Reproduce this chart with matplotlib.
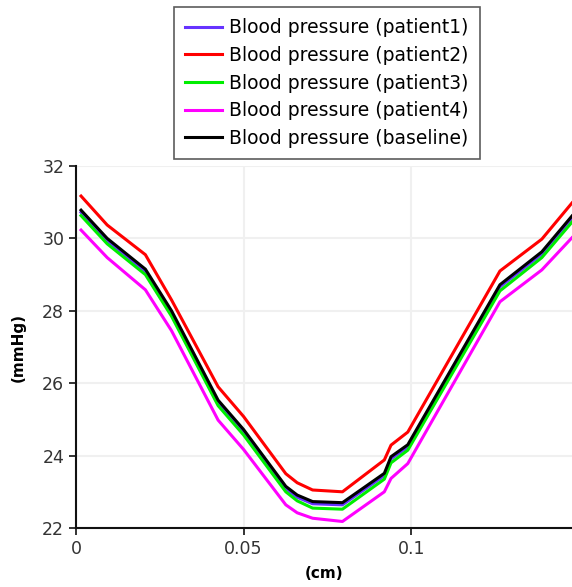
import matplotlib
matplotlib.use('Agg')
import matplotlib.pyplot as plt

# positions along the vessel (cm)
x_cm = [0.0015, 0.0093, 0.0207, 0.0285, 0.0424, 0.050, 0.0626, 0.066,
        0.0706, 0.0795, 0.092, 0.094, 0.099, 0.1265, 0.139, 0.148]

# blood pressure (mmHg)
patient1 = [30.72, 29.94, 29.09, 27.94, 25.47, 24.66, 23.09, 22.85,
            22.67, 22.64, 23.45, 23.91, 24.24, 28.66, 29.57, 30.56]
patient2 = [31.17, 30.37, 29.55, 28.30, 25.90, 25.08, 23.50, 23.25,
            23.05, 23.00, 23.88, 24.29, 24.65, 29.10, 29.98, 30.98]
patient3 = [30.63, 29.85, 29.00, 27.85, 25.38, 24.57, 23.00, 22.75,
            22.55, 22.52, 23.35, 23.80, 24.15, 28.55, 29.47, 30.45]
patient4 = [30.23, 29.47, 28.58, 27.45, 24.98, 24.17, 22.64, 22.42,
            22.27, 22.18, 23.00, 23.37, 23.78, 28.25, 29.13, 30.02]
baseline = [30.78, 30.00, 29.15, 28.00, 25.53, 24.72, 23.15, 22.91,
            22.73, 22.70, 23.51, 23.97, 24.30, 28.72, 29.63, 30.62]

series = [
    ('Blood pressure (patient1)', patient1, '#6633ff'),
    ('Blood pressure (patient2)', patient2, '#ff0000'),
    ('Blood pressure (patient3)', patient3, '#00ee00'),
    ('Blood pressure (patient4)', patient4, '#ff00ff'),
    ('Blood pressure (baseline)', baseline, '#000000'),
]

xticks = [0, 0.05, 0.1]
xtick_labels = ['0', '0.05', '0.1']
yticks = [22, 24, 26, 28, 30, 32]

plt.rcParams['font.family'] = ['DejaVu Sans']

fig = plt.figure(figsize=(5.72, 5.87), dpi=100)
ax = fig.add_axes([0.1329, 0.1005, 0.8671, 0.6167])

for label, vals, color in series:
    ax.plot(x_cm, vals, color=color, linewidth=2.2, label=label,
            solid_joinstyle='round')

ax.set_xlim(0, 0.148)
ax.set_ylim(22, 32)
ax.set_xticks(xticks)
ax.set_xticklabels(xtick_labels)
ax.set_yticks(yticks)
ax.grid(True, color='#f0f0f0', linewidth=1.5)
ax.set_axisbelow(True)

for side in ['top', 'right']:
    ax.spines[side].set_visible(False)
for side in ['left', 'bottom']:
    ax.spines[side].set_linewidth(1.5)
    ax.spines[side].set_color('#111111')

ax.tick_params(axis='both', labelsize=12.5, length=5, width=1.2,
               colors='#111111', labelcolor='#333333')
ax.set_xlabel('(cm)', fontsize=11, fontweight='bold', labelpad=6)
ax.set_ylabel('(mmHg)', fontsize=11, fontweight='bold', labelpad=12)

leg = fig.legend(loc='upper center', bbox_to_anchor=(0.571, 0.988),
                 fontsize=13.5, frameon=True, fancybox=False,
                 handlelength=2.0, handletextpad=0.35, labelspacing=0.46,
                 borderpad=0.6, borderaxespad=0)
leg.get_frame().set_edgecolor('#333333')
leg.get_frame().set_linewidth(1.2)

plt.savefig('out.png', dpi=100)
